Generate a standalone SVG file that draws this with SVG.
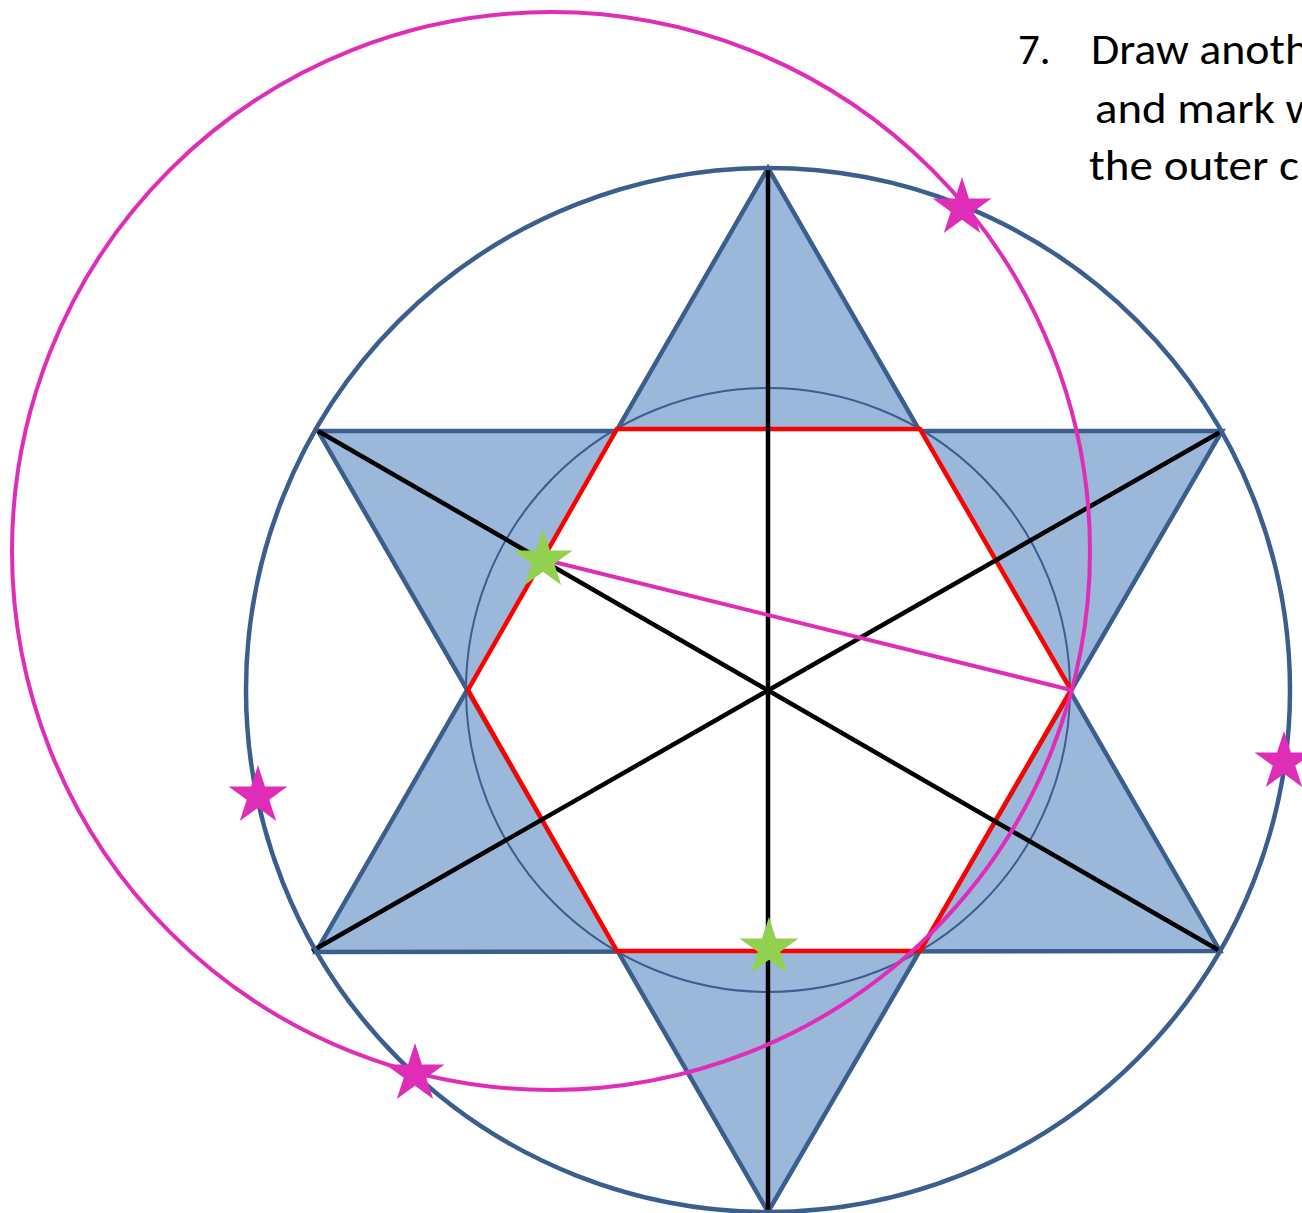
<svg xmlns="http://www.w3.org/2000/svg" xmlns:xlink="http://www.w3.org/1999/xlink" width="1302" height="1213" viewBox="0 0 1302 1213">
<style>
.tri{fill:#9BB7DA;stroke:#3A5F8F;stroke-width:4.5;stroke-linejoin:miter}
.outer{fill:none;stroke:#3A5F8F;stroke-width:4.5}
.inner{fill:none;stroke:#3A5F8F;stroke-width:2}
.hex{fill:#FFFFFF;stroke:#FF0000;stroke-width:4.5;stroke-linejoin:miter}
.ax{stroke:#000000;stroke-width:4.5;fill:none}
.mag{fill:none;stroke:#E02DB8;stroke-width:4}
.mstar{fill:#E02DB8}
.gstar{fill:#92D050}
.txt{font-family:Calibri,Carlito,Lato,"Open Sans",sans-serif;font-size:43px;fill:#000000}
</style>
<defs>
<polygon id="star" points="0,-31 6.96,-9.58 29.48,-9.58 11.26,3.66 18.22,25.08 0,11.84 -18.22,25.08 -11.26,3.66 -29.48,-9.58 -6.96,-9.58"/>
</defs>
<rect width="1302" height="1213" fill="#FFFFFF"/>
<g id="hexagram">
<polygon class="tri" points="768,168 316,952 1220,951"/>
<polygon class="tri" points="318,431 1222,431 768,1212"/>
</g>
<circle id="inner-circle" class="inner" cx="768" cy="690" r="302"/>
<polygon id="hexagon" class="hex" points="617,429 920,429 1071,690 920,951 617,951 468,690"/>
<g id="connectors">
<line class="ax" x1="768" y1="168" x2="768" y2="1210"/>
<line class="ax" x1="318" y1="431" x2="1220" y2="951"/>
<line class="ax" x1="1222" y1="431" x2="312" y2="951"/>
<line class="mag" x1="542" y1="559" x2="1071" y2="690"/>
</g>
<circle id="outer-circle" class="outer" cx="768" cy="690" r="522"/>
<circle id="magenta-circle" class="mag" cx="551" cy="551" r="539"/>
<g id="green-stars">
<use xlink:href="#star" class="gstar" x="543" y="560"/>
<use xlink:href="#star" class="gstar" x="769" y="948"/>
</g>
<g id="magenta-stars">
<use xlink:href="#star" class="mstar" x="962" y="208"/>
<use xlink:href="#star" class="mstar" x="415" y="1074"/>
<use xlink:href="#star" class="mstar" x="258" y="796"/>
<use xlink:href="#star" class="mstar" x="1284" y="762"/>
</g>
<g id="instruction">
<text class="txt" x="1018" y="64">7.</text>
<text class="txt" x="1091" y="64" textLength="218" lengthAdjust="spacingAndGlyphs">Draw anoth</text>
<text class="txt" x="1095" y="123" textLength="224" lengthAdjust="spacingAndGlyphs">and mark w</text>
<text class="txt" x="1089" y="180" textLength="210" lengthAdjust="spacingAndGlyphs">the outer c</text>
</g>
</svg>
